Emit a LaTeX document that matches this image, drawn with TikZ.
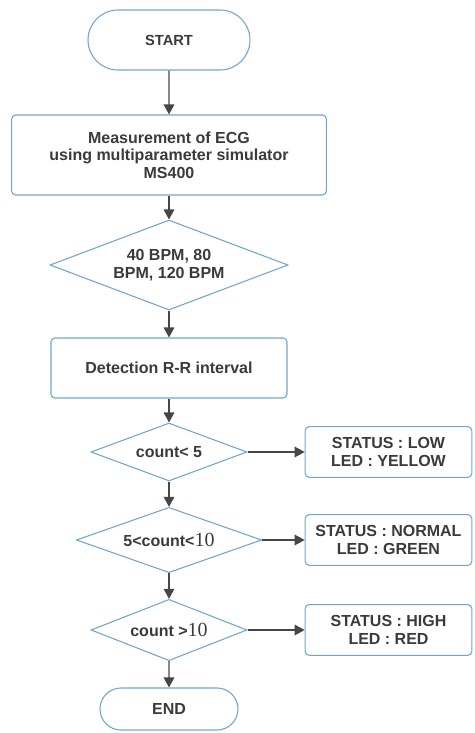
\documentclass[tikz,border=0pt]{standalone}
\usepackage{fontspec}
\setmainfont{Liberation Sans}
\newfontfamily\numfont{Liberation Serif}
\usepackage{tikz}
\usetikzlibrary{
	arrows.meta,
	shapes.geometric,
	shapes.misc,
	positioning
}
\definecolor{FlowBlue}{RGB}{112,166,206}
\definecolor{ArrowGray}{RGB}{70,70,70}
\definecolor{TextGray}{RGB}{58,58,58}
\newcommand{\bignum}[1]{{\numfont\mdseries\fontsize{15}{15}\selectfont #1}}

\begin{document}
\begin{tikzpicture}[x=0.75pt, y=-0.75pt,
		every node/.style={font=\fontsize{12}{13}\selectfont\bfseries, text=TextGray, align=center},
		term/.style={draw=FlowBlue, line width=0.8pt, rounded rectangle, inner sep=0pt},
		proc/.style={draw=FlowBlue, line width=0.8pt, rectangle, rounded corners=3pt, inner sep=0pt},
		decide/.style={draw=FlowBlue, line width=0.8pt, diamond, inner sep=0pt, aspect=2},
		flow/.style={-{Triangle[length=7.5pt,width=8pt]}, ArrowGray, line width=0.9pt}]
		\useasboundingbox (0,0) rectangle (475,733);
		% main column
		\node[term, minimum width=121.5pt, minimum height=45pt, font=\fontsize{11}{13}\selectfont\bfseries] (start) at (169,40) {START};
		\node[proc, minimum width=236pt, minimum height=60pt] (measure) at (169,155) {Measurement of ECG\\using multiparameter simulator\\MS400};
		\node[decide, minimum width=178.5pt, minimum height=67.5pt] (bpm) at (169,265) {40 BPM, 80\\BPM, 120 BPM};
		\node[proc, minimum width=177pt, minimum height=45pt] (detect) at (169,368) {Detection R-R interval};
		\node[decide, minimum width=117pt, minimum height=43.5pt] (low) at (169,452) {count< 5};
		\node[decide, minimum width=139pt, minimum height=49pt] (normal) at (169,540) {5<count<\bignum{10}};
		\node[decide, minimum width=117pt, minimum height=46pt] (high) at (169,630) {count >\bignum{10}};
		\node[term, minimum width=103.5pt, minimum height=31.5pt] (end) at (169,709) {END};
		% status boxes
		\node[proc, minimum width=125pt, minimum height=38pt] (lowled) at (388.5,452) {STATUS : LOW\\LED : YELLOW};
		\node[proc, minimum width=125pt, minimum height=38pt] (normalled) at (388.5,540) {STATUS : NORMAL\\LED : GREEN};
		\node[proc, minimum width=125pt, minimum height=38pt] (highled) at (388.5,630) {STATUS : HIGH\\LED : RED};
		% connectors
		\draw[flow] (start) -- (measure);
		\draw[flow] (measure) -- (bpm);
		\draw[flow] (bpm) -- (detect);
		\draw[flow] (detect) -- (low);
		\draw[flow] (low) -- (normal);
		\draw[flow] (normal) -- (high);
		\draw[flow] (high) -- (end);
		\draw[flow] (low) -- (lowled);
		\draw[flow] (normal) -- (normalled);
		\draw[flow] (high) -- (highled);
	\end{tikzpicture}
\end{document}
